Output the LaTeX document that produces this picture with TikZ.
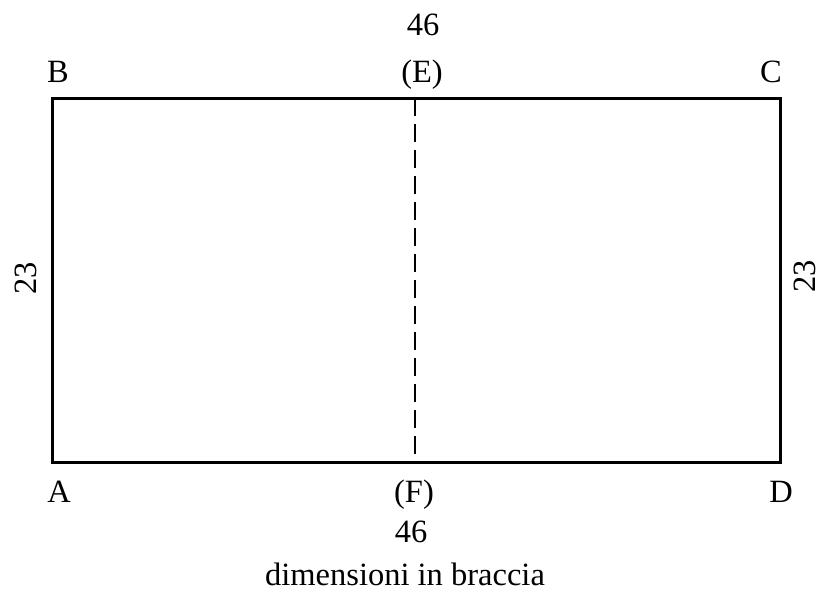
\documentclass[tikz,border=0pt]{standalone}
\usepackage{fontspec}
\setmainfont{Liberation Serif}
\begin{document}
\begin{tikzpicture}[x=1pt,y=-1pt,
  lbl/.style={font=\fontsize{32.5}{38}\selectfont, inner sep=0pt, anchor=base},
  side/.style={font=\fontsize{32.5}{38}\selectfont, inner sep=0pt, anchor=center, rotate=90},
  frame/.style={line width=3pt, line join=miter},
  split/.style={line width=2.2pt, dash pattern=on 18pt off 8pt}]
\useasboundingbox (0,0) rectangle (824,592);
\coordinate (pA) at (52,462);
\coordinate (pB) at (52,98);
\coordinate (pC) at (780,98);
\coordinate (pD) at (780,462);
\coordinate (pE) at (415,98);
\coordinate (pF) at (415,462);
\draw[frame] (pA) -- (pB) -- (pC) -- (pD) -- cycle;
\draw[split] (pE) -- (pF);
\node[lbl] (B) at (58,82) {B};
\node[lbl] (E) at (422,82) {(E)};
\node[lbl] (C) at (771,82) {C};
\node[lbl] (top) at (423,35) {46};
\node[lbl] (A) at (59,502) {A};
\node[lbl] (F) at (414,502) {(F)};
\node[lbl] (D) at (781,502) {D};
\node[lbl] (bot) at (411,542) {46};
\node[lbl] (note) at (405,585) {dimensioni in braccia};
\node[side] (left) at (26,278) {23};
\node[side] (right) at (805,276) {23};
\end{tikzpicture}
\end{document}
